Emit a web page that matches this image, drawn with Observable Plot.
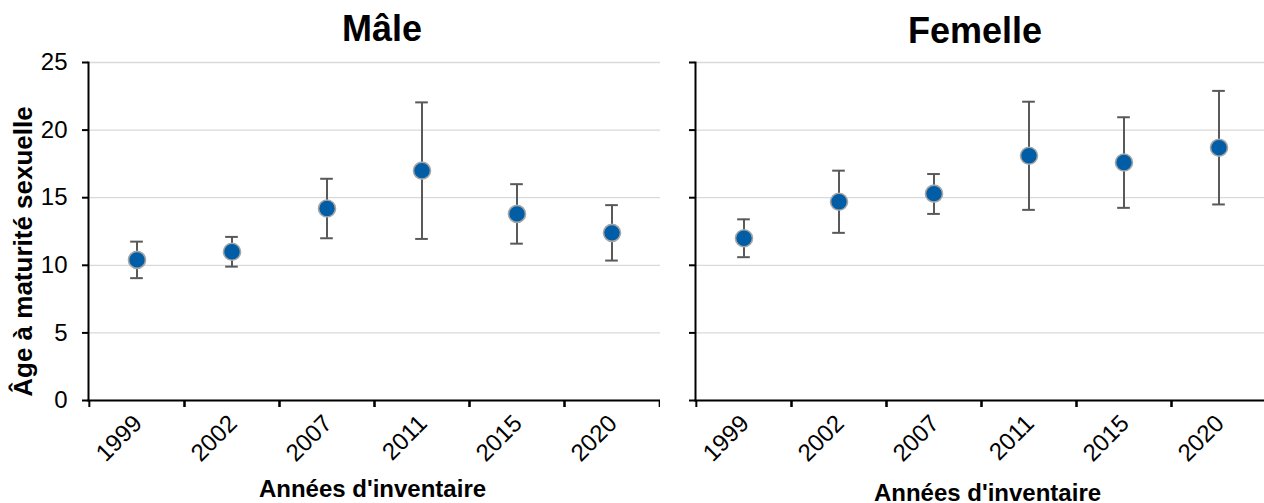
<!DOCTYPE html>
<html><head><meta charset="utf-8">
<script src="https://cdn.jsdelivr.net/npm/d3@7"></script>
<script src="https://cdn.jsdelivr.net/npm/@observablehq/plot@0.6"></script>
<style>
html,body{margin:0;padding:0;background:#fff;overflow:hidden}
body{font-family:"Liberation Sans",Arial,sans-serif}
#wrap{position:relative;width:1267px;height:503px}
.panel{position:absolute;top:0}
.title{position:absolute;top:6px;font-weight:bold;font-size:36px;line-height:42px;text-align:center;color:#000;white-space:nowrap}
svg g[aria-label="x-axis label"] text{font-weight:bold;font-size:24px}
</style></head><body>
<div id="wrap"></div>
<script>
const years = ["1999", "2002", "2007", "2011", "2015", "2020"];
const maleMean = [10.4, 11.0, 14.2, 17.0, 13.8, 12.4];
const maleLow = [9.05, 9.9, 12.0, 11.95, 11.6, 10.35];
const maleHigh = [11.75, 12.1, 16.4, 22.05, 16.0, 14.45];
const femaleMean = [12.0, 14.7, 15.3, 18.1, 17.6, 18.7];
const femaleLow = [10.6, 12.4, 13.8, 14.1, 14.25, 14.5];
const femaleHigh = [13.4, 17.0, 16.75, 22.1, 20.95, 22.9];
const yTicks = [0, 5, 10, 15, 20, 25];
const panelTitles = ["Mâle", "Femelle"];
const xTitle = "Années d'inventaire";
const yTitle = "Âge à maturité sexuelle";

const wrap = document.getElementById("wrap");
const innerW = 572;
const band = innerW / years.length;

function panel(title, mean, low, high, o) {
  const data = years.map((y, i) => ({year: y, mean: mean[i], low: low[i], high: high[i]}));
  const marks = [
    Plot.gridY(yTicks, {stroke: "#d9d9d9", strokeOpacity: 1, strokeWidth: 1.3}),
    Plot.frame({anchor: "left", stroke: "#000", strokeWidth: 2}),
    Plot.frame({anchor: "bottom", stroke: "#000", strokeWidth: 2}),
    Plot.axisY(yTicks, {tickSize: 6, tickPadding: 15, strokeWidth: 2, stroke: "#000",
      tickFormat: o.labels ? (d => d) : (() => ""), label: null}),
    Plot.axisX({tickSize: 7, dx: -band / 2, tickFormat: () => "", label: null, strokeWidth: 2}),
    Plot.axisX({tickSize: 7, dx: band / 2, tickFormat: () => "", label: null, strokeWidth: 2}),
    Plot.axisX({tickSize: 0, tickRotate: -45, tickPadding: 19, dx: 1,
      label: xTitle, labelAnchor: "center", labelArrow: "none", labelOffset: o.xLabelOffset}),
    Plot.ruleX(data, {x: "year", y1: "low", y2: "high", stroke: "#595959", strokeWidth: 2}),
    Plot.tickY(data, {x: "year", y: "low", stroke: "#595959", strokeWidth: 2, insetLeft: band / 2 - 6.5, insetRight: band / 2 - 6.5}),
    Plot.tickY(data, {x: "year", y: "high", stroke: "#595959", strokeWidth: 2, insetLeft: band / 2 - 6.5, insetRight: band / 2 - 6.5}),
    Plot.dot(data, {x: "year", y: "mean", r: 8.5, fill: "#005DA6", stroke: "#a6a6a6", strokeWidth: 1.6})
  ];
  if (o.labels) {
    marks.push(Plot.text([yTitle], {frameAnchor: "left", rotate: -90, dx: -65, dy: 20,
      fontSize: 26, fontWeight: "bold", fill: "#000", textAnchor: "middle"}));
  }
  const plot = Plot.plot({
    width: o.marginLeft + innerW, height: 503,
    marginLeft: o.marginLeft, marginRight: 0, marginTop: 62, marginBottom: 103,
    style: {fontFamily: "'Liberation Sans', Arial, sans-serif", fontSize: "24px", color: "#000", background: "#fff", overflow: "visible"},
    x: {domain: years, padding: 0, axis: null},
    y: {domain: [0, 25], axis: null},
    marks
  });
  d3.select(plot).selectAll('g[aria-label="x-axis label"] text').attr("dx", o.xLabelShift);
  const div = document.createElement("div");
  div.className = "panel";
  div.style.left = o.left + "px";
  div.appendChild(plot);
  const t = document.createElement("div");
  t.className = "title";
  t.textContent = title;
  t.style.left = (o.marginLeft + o.titleShift) + "px";
  t.style.top = o.titleTop + "px";
  t.style.width = innerW + "px";
  div.appendChild(t);
  wrap.appendChild(div);
}

panel(panelTitles[0], maleMean, maleLow, maleHigh, {left: 0, marginLeft: 88, labels: true, titleShift: 8, titleTop: 8, xLabelOffset: 96, xLabelShift: -2});
panel(panelTitles[1], femaleMean, femaleLow, femaleHigh, {left: 660, marginLeft: 35, labels: false, titleShift: -6, titleTop: 10, xLabelOffset: 100, xLabelShift: 6});
</script>
</body></html>
